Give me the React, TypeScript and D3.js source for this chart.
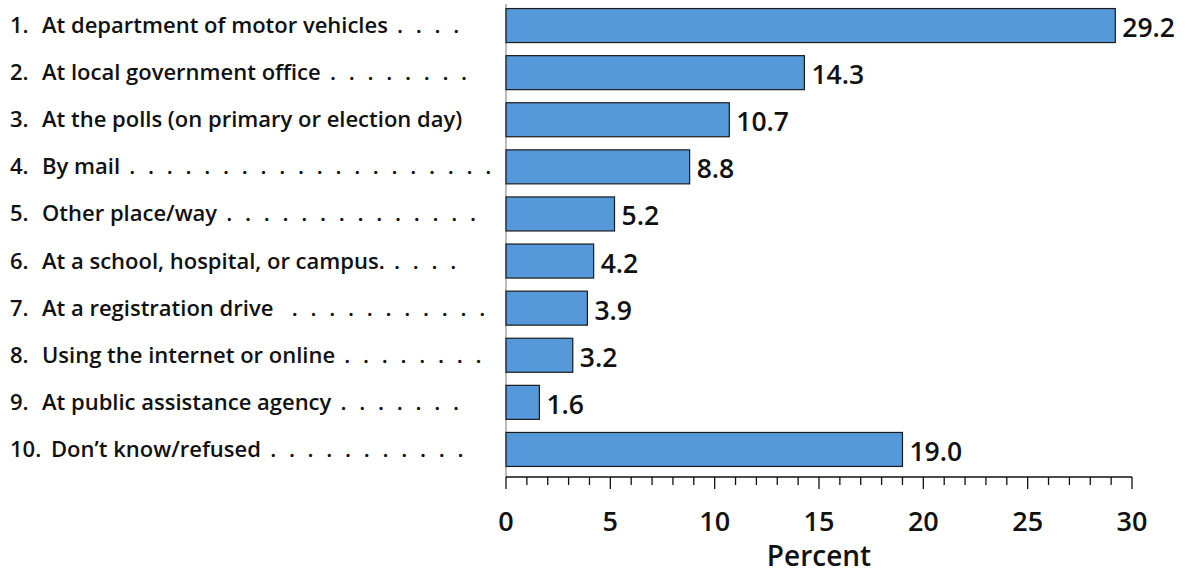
import React from "react";
import * as d3 from "d3";

const categories = [
  "At department of motor vehicles",
  "At local government office",
  "At the polls (on primary or election day)",
  "By mail",
  "Other place/way",
  "At a school, hospital, or campus.",
  "At a registration drive",
  "Using the internet or online",
  "At public assistance agency",
  "Don\u2019t know/refused",
];
const values = [29.2, 14.3, 10.7, 8.8, 5.2, 4.2, 3.9, 3.2, 1.6, 19.0];
const leaderDots = [4, 8, 0, 20, 14, 4, 11, 8, 7, 11];
const leaderGap = [1, 1, 0, 1, 1, 1, 2, 1, 1, 1];
const majorTicks = [0, 5, 10, 15, 20, 25, 30];
const minorTicks = d3.range(0, 31, 1);
const axisTitle = "Percent";

const W = 1189;
const H = 573;
const X0 = 506;
const X1 = 1132;
const FONT = "'Open Sans', 'Noto Sans', sans-serif";

export default function App() {
  const x = d3.scaleLinear().domain([0, 30]).range([X0, X1]);
  const y = d3
    .scaleBand<number>()
    .domain(d3.range(categories.length))
    .range([2, 473])
    .paddingInner(0.278)
    .paddingOuter(0.139);
  const axisY = 477;
  const bw = y.bandwidth();

  return (
    <svg
      width={W}
      height={H}
      style={{ position: "absolute", left: 0, top: 0, background: "#fff" }}
      fontFamily={FONT}
    >
      {/* y axis line */}
      <line x1={X0} x2={X0} y1={4} y2={axisY} stroke="#bbb" strokeWidth={2} />
      {/* bars */}
      {values.map((v, i) => (
        <g key={i}>
          <rect
            x={x(0)}
            y={y(i)!}
            width={x(v) - x(0)}
            height={bw}
            fill="#5599DA"
            stroke="#1a1a1a"
            strokeWidth={1.2}
          />
          <text
            x={x(v) + 7}
            y={y(i)! + bw / 2 + 11.5}
            fontSize={26.5}
            fontWeight={600}
            fill="#111"
          >
            {v.toFixed(1)}
          </text>
        </g>
      ))}
      {/* category labels */}
      {categories.map((c, i) => {
        const num = `${i + 1}.`;
        const lx = i + 1 >= 10 ? 51 : 42;
        const dots =
          leaderDots[i] > 0
            ? " ".repeat(leaderGap[i]) + Array(leaderDots[i]).fill(".").join(" ")
            : "";
        return (
          <text
            key={i}
            y={y(i)! + bw / 2 + 7.5}
            fontSize={22}
            fontWeight={600}
            fill="#111"
            style={{ whiteSpace: "pre" }}
          >
            <tspan x={10}>{num}</tspan>
            <tspan x={lx}>{c}</tspan>
            {dots && <tspan letterSpacing={3.5}>{dots}</tspan>}
          </text>
        );
      })}
      {/* x axis */}
      <line x1={X0} x2={X1} y1={axisY} y2={axisY} stroke="#111" strokeWidth={1.5} />
      {minorTicks.map((t) => (
        <line
          key={t}
          x1={x(t)}
          x2={x(t)}
          y1={axisY}
          y2={axisY + (t % 5 === 0 ? 12 : 8)}
          stroke="#111"
          strokeWidth={1.3}
        />
      ))}
      {majorTicks.map((t) => (
        <text
          key={t}
          x={x(t)}
          y={531}
          textAnchor="middle"
          fontSize={27}
          fontWeight={600}
          fill="#111"
        >
          {t}
        </text>
      ))}
      <text
        x={(X0 + X1) / 2}
        y={566}
        textAnchor="middle"
        fontSize={28}
        fontWeight={600}
        fill="#111"
      >
        {axisTitle}
      </text>
    </svg>
  );
}
